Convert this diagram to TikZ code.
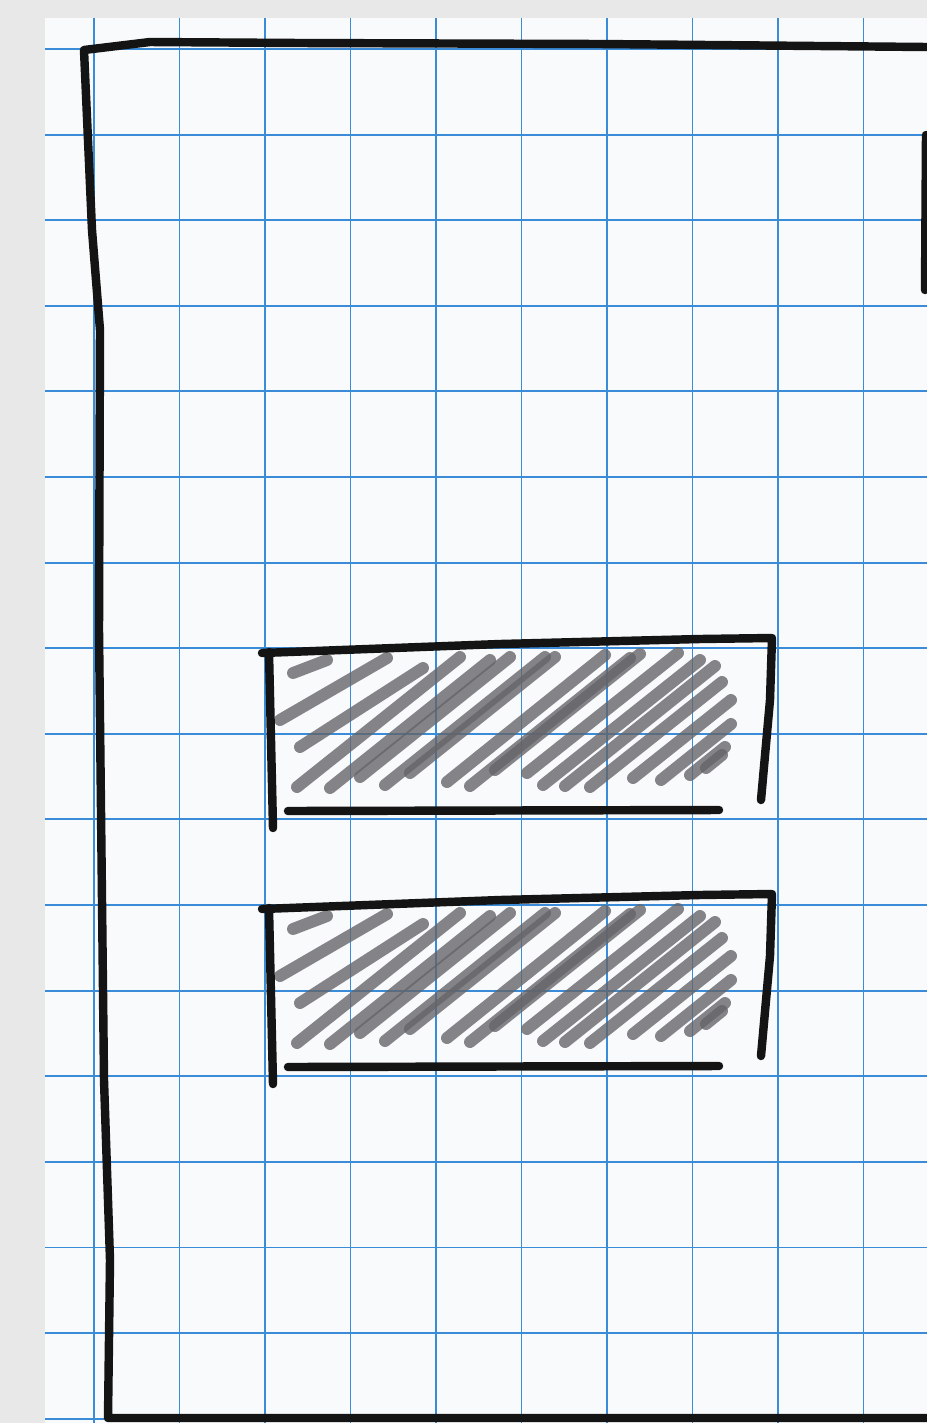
\documentclass[tikz,border=0pt]{standalone}
\usepackage{tikz}
\definecolor{desk}{HTML}{E8E8E8}
\definecolor{paper}{HTML}{F9FAFC}
\definecolor{gridblue}{HTML}{3A8CD8}
\definecolor{ink}{HTML}{141414}
\definecolor{lead}{HTML}{646468}

\begin{document}
\begin{tikzpicture}[x=0.025cm,y=-0.025cm,
  gridline/.style={draw=gridblue,line width=1.3pt},
  pen/.style={draw=ink,line width=6pt,line cap=round,line join=round},
  scribble/.style={draw=lead,line width=8.5pt,line cap=round,line join=round,opacity=0.78}
]
\fill[desk] (0,0) rectangle (927,1423);
\fill[paper] (45,18) rectangle (927,1423);
\useasboundingbox (0,0) rectangle (927,1423);
% graph paper
\foreach \gx in {0,...,9}
  \draw[gridline] ({94+85.5*\gx},18) -- ({94+85.5*\gx},1423);
\foreach \gy in {0,...,16}
  \draw[gridline] (45,{49+85.6*\gy}) -- (927,{49+85.6*\gy});
% page frame
\draw[pen] (927,47) -- (600,44) -- (300,43) -- (150,42) -- (84,50) -- (88,140)
  -- (92,230) -- (100,330) -- (99,630) -- (104,1080) -- (110,1260) -- (108,1418)
  -- (927,1418);
\draw[pen] (926,135) -- (925,290);
% the two shaded bars
\foreach \dy in {0,256}{
  \begin{scope}[shift={(0,\dy)}]
    \foreach \ax/\ay/\bx/\by in {293/673/327/660, 280/720/387/658, 300/747/423/668,
        297/787/460/657, 330/788/490/660, 360/777/510/657, 385/785/545/657,
        410/773/555/657, 447/782/605/655, 470/786/630/658, 495/770/640/654,
        527/773/678/653, 543/785/700/660, 565/786/715/666, 590/787/722/682,
        633/778/731/700, 661/780/731/724, 690/775/725/747, 706/768/722/755}
      \draw[scribble] (\ax,\ay) -- (\bx,\by);
    \draw[pen] (262,653) -- (500,644) -- (700,639) -- (772,638) -- (770,700) -- (761,800);
    \draw[pen] (269,652) -- (273,828);
    \draw[pen] (288,811) -- (719,810);
  \end{scope}
}
\end{tikzpicture}
\end{document}
